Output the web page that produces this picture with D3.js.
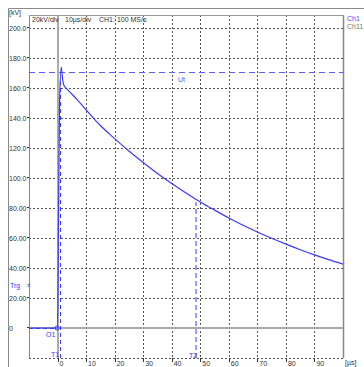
<!DOCTYPE html>
<html>
<head>
<meta charset="utf-8">
<script src="https://cdn.jsdelivr.net/npm/d3@7"></script>
<style>
  body { margin: 0; background: #fff; }
  svg text { font-family: 'Liberation Sans', Arial, sans-serif; }
</style>
</head>
<body>
<div id="chart"></div>
<script>
// waveform (time in µs, voltage in kV)
const timeUs = [-10, 0, 0.3, 0.7, 1.3, 1.7, 2.2, 3.0, 4.5, 7, 10, 15, 20, 25, 30, 35, 40, 45, 50, 55, 60, 65, 70, 75, 80, 85, 90, 95, 100];
const voltKv = [0, 0, 60, 150, 174, 167, 162, 160, 157, 152, 145.5, 135, 126.3, 118, 110.3, 103, 96.3, 90, 84, 78.6, 73.4, 68.5, 64, 59.8, 55.9, 52.2, 48.8, 45.6, 42.6];
const yTicks = [200, 180, 160, 140, 120, 100, 80, 60, 40, 20, 0];
const yTickLabels = ['200.0', '180.0', '160.0', '140.0', '120.0', '100.0', '80.00', '60.00', '40.00', '20.00', '0'];
const xTicks = [0, 10, 20, 30, 40, 50, 60, 70, 80, 90];
const gridY = [-20, 20, 40, 60, 80, 100, 120, 140, 160, 180, 200];
const gridX = [10, 20, 30, 40, 50, 60, 70, 80, 90];
const utKv = 171;
const o1 = { t: -0.2, v: 0 };
const t1Us = 0.7;
const t2Us = 48.5;
const t2Kv = 84;

const W = 364, H = 367;
const x = d3.scaleLinear().domain([-10, 100]).range([29, 343]);
const y = d3.scaleLinear().domain([-20, 208.7]).range([358, 15]);
const px = v => Math.round(v) + 0.5;

const svg = d3.select('#chart').append('svg').attr('width', W).attr('height', H);

// outer frame
svg.append('path').attr('d', `M8.5,${H}V8.5H${W}`).attr('fill', 'none').attr('stroke', '#8a8a8a').attr('stroke-width', 1);

// grid
svg.append('g').selectAll('line').data(gridY).join('line')
  .attr('x1', x(-10)).attr('x2', x(100)).attr('y1', d => px(y(d))).attr('y2', d => px(y(d)))
  .attr('stroke', '#555').attr('stroke-width', 1).attr('stroke-dasharray', '2,2');
svg.append('g').selectAll('line').data(gridX).join('line')
  .attr('x1', d => px(x(d))).attr('x2', d => px(x(d))).attr('y1', y(208.7)).attr('y2', y(-20))
  .attr('stroke', '#555').attr('stroke-width', 1).attr('stroke-dasharray', '2,2');

// plot borders and zero lines
svg.append('line').attr('x1', px(x(-10))).attr('x2', px(x(-10))).attr('y1', y(208.7)).attr('y2', y(-20)).attr('stroke', '#888');
svg.append('line').attr('x1', px(x(100))).attr('x2', px(x(100))).attr('y1', y(208.7)).attr('y2', y(-20)).attr('stroke', '#888').attr('stroke-width', 1.5);
svg.append('line').attr('x1', x(-10)).attr('x2', x(100)).attr('y1', px(y(208.7))).attr('y2', px(y(208.7))).attr('stroke', '#999');
svg.append('line').attr('x1', Math.round(x(0))).attr('x2', Math.round(x(0))).attr('y1', y(208.7)).attr('y2', y(-20)).attr('stroke', '#aaa').attr('stroke-width', 2);
svg.append('line').attr('x1', x(-10)).attr('x2', x(100)).attr('y1', Math.round(y(0))).attr('y2', Math.round(y(0))).attr('stroke', '#aaa').attr('stroke-width', 2);

// y labels
svg.append('text').attr('x', 9).attr('y', 15).attr('font-size', 7).attr('fill', '#333').text('[kV]');
svg.append('g').selectAll('text').data(yTicks).join('text')
  .attr('x', 9).attr('y', d => y(d) + 2.5).attr('font-size', 7).attr('fill', '#333')
  .text((d, i) => yTickLabels[i]);
svg.append('g').selectAll('line').data(yTicks).join('line')
  .attr('x1', 27).attr('x2', 29).attr('y1', d => px(y(d)) - 1).attr('y2', d => px(y(d)) - 1)
  .attr('stroke', '#333');

// x labels
svg.append('g').selectAll('text').data(xTicks).join('text')
  .attr('x', d => x(d) + 2).attr('y', 366).attr('font-size', 7).attr('fill', '#333')
  .text(d => d);
svg.append('g').selectAll('line').data(xTicks).join('line')
  .attr('x1', d => px(x(d))).attr('x2', d => px(x(d))).attr('y1', 358).attr('y2', 362)
  .attr('stroke', '#333');
svg.append('text').attr('x', 345).attr('y', 365).attr('font-size', 7).attr('fill', '#333').text('[µs]');

// header texts
const head = svg.append('g').attr('font-size', 7).attr('fill', '#333');
head.append('text').attr('x', 32).attr('y', 22).text('20kV/div');
head.append('text').attr('x', 65).attr('y', 22).text('10µs/div');
head.append('text').attr('x', 99).attr('y', 22).text('CH1: 100 MS/s');
svg.append('text').attr('x', 347).attr('y', 21).attr('font-size', 7).attr('fill', '#4a4aff').text('Ch1');
svg.append('text').attr('x', 347).attr('y', 29).attr('font-size', 7).attr('fill', '#777').text('Ch11');

// cursors
const blue = '#3a3aff';
svg.append('line').attr('x1', x(-10)).attr('x2', x(100)).attr('y1', px(y(utKv))).attr('y2', px(y(utKv)))
  .attr('stroke', '#5c5cff').attr('stroke-dasharray', '6,4');
svg.append('text').attr('x', 178).attr('y', 82).attr('font-size', 7).attr('fill', '#5a5aff').text('Ut');

svg.append('line').attr('x1', x(-10)).attr('x2', x(o1.t)).attr('y1', px(y(o1.v))).attr('y2', px(y(o1.v)))
  .attr('stroke', blue).attr('stroke-dasharray', '4,3');
svg.append('circle').attr('cx', x(o1.t)).attr('cy', y(o1.v)).attr('r', 2).attr('fill', 'none').attr('stroke', blue);
svg.append('text').attr('x', 46).attr('y', 337).attr('font-size', 7).attr('fill', blue).text('O1');

svg.append('line').attr('x1', px(x(t1Us))).attr('x2', px(x(t1Us))).attr('y1', y(-20)).attr('y2', y(165))
  .attr('stroke', blue).attr('stroke-dasharray', '4,3');
svg.append('text').attr('x', 51).attr('y', 357).attr('font-size', 7).attr('fill', blue).text('T1');

svg.append('line').attr('x1', Math.round(x(t2Us))).attr('x2', Math.round(x(t2Us))).attr('y1', y(-20)).attr('y2', y(t2Kv))
  .attr('stroke', '#9a9aff').attr('stroke-width', 2).attr('stroke-dasharray', '5,3');
svg.append('text').attr('x', 189).attr('y', 358).attr('font-size', 7).attr('fill', blue).text('T2');

svg.append('text').attr('x', 10).attr('y', 288).attr('font-size', 7).attr('fill', blue).text('Trg');
svg.append('text').attr('x', 27).attr('y', 287).attr('font-size', 6).attr('fill', blue).text('±');

// waveform
const pts = timeUs.map((t, i) => [t, voltKv[i]]);
svg.append('path').datum(pts)
  .attr('d', d3.line().x(d => x(d[0])).y(d => y(d[1])).curve(d3.curveMonotoneX))
  .attr('fill', 'none').attr('stroke', blue).attr('stroke-width', 1.2);
</script>
</body>
</html>
